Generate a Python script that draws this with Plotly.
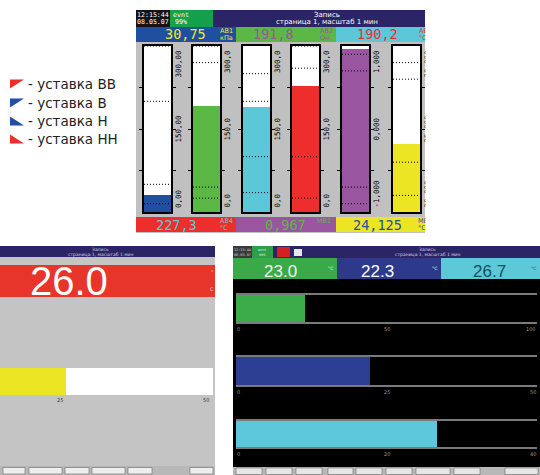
import plotly.graph_objects as go

W, H = 540, 475

# ---------------- data ----------------
# top panel: six vertical bar channels
top_channels = ["AB1", "AB2", "AB3", "AB4", "MB1", "MB2"]
top_units = ["кПа", "Ом", "°C", "°C", "", "°C"]
top_values = [30.75, 191.8, 190.2, 227.3, 0.967, 24.125]
top_value_text = ["30,75", "191,8", "190,2", "227,3", "0,967", "24,125"]
top_min = [0, 0, 0, 0, -1, 20]
top_max = [300, 300, 300, 300, 1, 30]
top_tick_text = [
    ["0,00", "150,00", "300,00"],
    ["0,0", "150,0", "300,0"],
    ["0,0", "150,0", "300,0"],
    ["0,0", "150,0", "300,0"],
    ["-1,000", "0,000", "1,000"],
    ["20,000", "25,000", "30,000"],
]
sp_high_high = [300, 300, 250, 300, 0.9, 29]   # уставка ВВ
sp_high = [200, 270, 200, 260, 0.7, 28]        # уставка В
sp_low = [50, 45, 100, 100, -0.7, 23]          # уставка Н
sp_low_low = [15, 25, 35, 25, -0.9, 21]        # уставка НН

legend_labels = ["- уставка ВВ", "- уставка В", "- уставка Н", "- уставка НН"]

header_time = ["12:15:44", "08.05.07"]
header_evnt = ["evnt", "99%"]
header_title = ["Запись", "страница 1, масштаб 1 мин"]

# bottom-left screen
bl_value = 26.0
bl_value_text = "26.0"
bl_visible_range = [15, 50.5]
bl_tick_vals = [25, 50]
bl_tick_text = ["25", "50"]
bl_mark = 24

# bottom-right screen
br_values = [23.0, 22.3, 26.7]
br_value_text = ["23.0", "22.3", "26.7"]
br_max = [100, 50, 40]
br_tick_text = [["0", "50", "100"], ["0", "25", "50"], ["0", "20", "40"]]
br_marks = [23.3, 19.5, 24.2]

# ---------------- styles ----------------
GRAY = "#c0c0c0"
NAVY = "#2b2566"
C_BLUE = "#1f4f9f"
C_GREEN = "#5cb845"
C_CYAN = "#5cc7d8"
C_RED = "#ee2d2d"
C_PURPLE = "#9a55a0"
C_YELLOW = "#ece524"
bar_colors = [C_BLUE, C_GREEN, C_CYAN, C_RED, C_PURPLE, C_YELLOW]
cell_text_colors = ["#f0e830", "#9a55a0", "#ee2d2d", "#5cc7d8", "#5cb845", "#1f4f9f"]
MONO = "DejaVu Sans Mono"
SANS = "DejaVu Sans"
PANEL_R = 425


def px(x):
    return x / W


def py(y):
    return 1 - y / H


shapes = []
annotations = []


def rect(x0, y0, x1, y1, color, line_color=None, lw=0):
    shapes.append(dict(type="rect", xref="paper", yref="paper",
                       x0=px(x0), x1=px(x1), y0=py(y1), y1=py(y0),
                       fillcolor=color,
                       line=dict(width=lw, color=line_color or color),
                       layer="below"))


def text(x, y, s, size, color, family=SANS, xanchor="center", yanchor="middle"):
    annotations.append(dict(xref="paper", yref="paper", x=px(x), y=py(y), text=s,
                            showarrow=False, font=dict(size=size, color=color, family=family),
                            xanchor=xanchor, yanchor=yanchor, borderpad=0))


fig = go.Figure()
layout_axes = {}


def axnames(k):
    s = "" if k == 1 else str(k)
    return "x" + s, "y" + s, "xaxis" + s, "yaxis" + s


# ---------------- top panel backgrounds ----------------
rect(136, 10, PANEL_R, 233, GRAY)
rect(136, 10, 170, 27, "#141414")
rect(170, 10, 192, 27, "#1aa04a")
rect(192, 10, 213, 27, "#13a04c")
rect(213, 10, PANEL_R, 27, NAVY)
cells_x = [(136, 236), (236, 336), (336, PANEL_R)]
for i, (a, b) in enumerate(cells_x):
    rect(a, 27, b, 42, bar_colors[i])
    rect(a, 217, b, 232, bar_colors[i + 3])

text(153, 14.5, header_time[0], 6.6, "white", MONO)
text(153, 21.5, header_time[1], 6.6, "white", MONO)
text(181, 14.5, header_evnt[0], 6.6, "white", MONO)
text(181, 21.5, header_evnt[1], 6.6, "white", MONO)
text(327, 14.5, header_title[0], 7, "white", SANS)
text(327, 22, header_title[1], 7, "white", SANS)

val_cx = [185, 273, 377, 176, 285, 377]
val_cy = [34.5, 34.5, 34.5, 224.5, 224.5, 224.5]
lab_x = [219, 319, 418, 219, 316, 417]
for i in range(6):
    text(val_cx[i], val_cy[i], top_value_text[i], 13.5, cell_text_colors[i], MONO)
    unit = top_units[i]
    text(lab_x[i], val_cy[i] - 3.3, top_channels[i], 6.5, cell_text_colors[i], SANS, xanchor="left")
    if unit:
        text(lab_x[i], val_cy[i] + 3.5, unit, 6.5, cell_text_colors[i], SANS, xanchor="left")

# ---------------- top panel vertical bars ----------------
bar_left = [144, 193, 243, 292, 342, 393]
BAR_W = 27
BAR_TOP, BAR_BOT = 46, 212
for i in range(6):
    k = i + 1
    xa, ya, xk, yk = axnames(k)
    mn, mx = top_min[i], top_max[i]
    span = mx - mn
    shapes.append(dict(type="rect", xref=xa + " domain", yref=ya + " domain",
                       x0=0, x1=1, y0=0, y1=1, fillcolor="white",
                       line=dict(width=0), layer="below"))
    fig.add_trace(go.Bar(x=[0.5], y=[top_values[i] - mn], base=[mn], width=[1],
                         marker=dict(color=bar_colors[i], line=dict(width=0)),
                         xaxis=xa, yaxis=ya, hoverinfo="skip"))
    off = 3.0 / (BAR_BOT - BAR_TOP) * span
    for sp, col, sym, sgn in [(sp_high_high[i], C_RED, "triangle-nw", -1),
                              (sp_high[i], C_BLUE, "triangle-nw", -1),
                              (sp_low[i], C_BLUE, "triangle-sw", 1),
                              (sp_low_low[i], C_RED, "triangle-sw", 1)]:
        fig.add_trace(go.Scatter(x=[0, 1], y=[sp, sp], mode="lines",
                                 line=dict(color="black", width=1, dash="1px,2px"),
                                 xaxis=xa, yaxis=ya, hoverinfo="skip"))
        fig.add_trace(go.Scatter(x=[-0.15], y=[sp + sgn * off], mode="markers",
                                 marker=dict(symbol=sym, size=7, color=col, line=dict(width=0)),
                                 cliponaxis=False, xaxis=xa, yaxis=ya, hoverinfo="skip"))
    layout_axes[xk] = dict(domain=[px(bar_left[i]), px(bar_left[i] + BAR_W)], range=[0, 1],
                           anchor=ya, showline=True, mirror=True, linecolor="black", linewidth=1.5,
                           showticklabels=False, ticks="", showgrid=False, zeroline=False,
                           fixedrange=True)
    layout_axes[yk] = dict(domain=[py(BAR_BOT), py(BAR_TOP)], range=[mn, mx], anchor=xa,
                           showline=True, mirror="ticks", linecolor="black", linewidth=1.5,
                           ticks="outside", ticklen=3, tickwidth=1, tickcolor="black",
                           tickvals=[mn + span * q for q in (0.25, 0.5, 0.75)],
                           showticklabels=False, showgrid=False, zeroline=False, fixedrange=True)
    for tv, tt, yanc, ysh in [(mn, top_tick_text[i][0], "bottom", 3),
                              (mn + span / 2, top_tick_text[i][1], "middle", 0),
                              (mx, top_tick_text[i][2], "top", -3)]:
        annotations.append(dict(xref=xa + " domain", yref=ya, x=1, y=tv, text=tt,
                                showarrow=False, textangle=-90, xanchor="left", yanchor=yanc,
                                xshift=2, yshift=ysh, borderpad=0,
                                font=dict(size=7.5, color="black", family=MONO)))

# the photographed screen is cropped at its right edge: mask what lies beyond it
annotations.append(dict(xref="paper", yref="paper", x=px(PANEL_R), y=py(2), text=" ",
                        showarrow=False, xanchor="left", yanchor="top", width=40, height=238,
                        bgcolor="white", borderpad=0, font=dict(size=2)))

# ---------------- legend ----------------
leg_y = [84, 103, 121, 139]
leg_cols = [C_RED, C_BLUE, C_BLUE, C_RED]
for j in range(4):
    yc = leg_y[j]
    x0, x1, y0, y1 = px(10), px(24), py(yc - 4.5), py(yc + 4.5)
    if j < 2:
        path = f"M {x0},{y0} L {x1},{y0} L {x0},{y1} Z"
    else:
        path = f"M {x0},{y1} L {x1},{y1} L {x0},{y0} Z"
    shapes.append(dict(type="path", xref="paper", yref="paper", path=path,
                       fillcolor=leg_cols[j], line=dict(width=0), layer="above"))
    text(27, yc, legend_labels[j], 13.5, "#222222", SANS, xanchor="left")

# ---------------- bottom-left screen ----------------
rect(0, 246, 215, 257, NAVY)
rect(0, 257, 215, 467, "#c4c4c4")
rect(0, 265, 215, 297, "#e8352b")
rect(0, 466, 215, 475, "#b8b8b8")
text(100, 249, header_title[0], 4.5, "#d0d0e0")
text(100, 254, header_title[1], 4.5, "#d0d0e0")
text(69, 281, bl_value_text, 40, "white", "Liberation Sans")
text(212, 272, "°", 5, "#f4d0d0")
text(212, 289, "C", 5, "#f4d0d0")
for bx0, bx1 in [(3, 25), (29, 62), (65, 89), (92, 125), (128, 152), (190, 213)]:
    rect(bx0, 467.5, bx1, 474, "#eeeeee", "#555555", 0.5)

k = 10
xa, ya, xk, yk = axnames(k)
shapes.append(dict(type="rect", xref=xa + " domain", yref=ya + " domain", x0=0, x1=1, y0=0, y1=1,
                   fillcolor="white", line=dict(width=0), layer="below"))
fig.add_trace(go.Bar(x=[bl_value], y=[0], base=[0], orientation="h", width=[1],
                     marker=dict(color=C_YELLOW, line=dict(width=0)),
                     xaxis=xa, yaxis=ya, hoverinfo="skip"))
fig.add_trace(go.Scatter(x=[bl_mark], y=[0.68], mode="markers",
                         marker=dict(symbol="circle", size=4, color="#d04040"),
                         cliponaxis=False, xaxis=xa, yaxis=ya, hoverinfo="skip"))
layout_axes[xk] = dict(domain=[0, px(213)], range=bl_visible_range, anchor=ya, showline=False,
                       showticklabels=False, ticks="", showgrid=False, zeroline=False, fixedrange=True)
layout_axes[yk] = dict(domain=[py(395), py(368)], range=[-0.5, 0.5], anchor=xa, visible=False,
                       fixedrange=True)
for tv, tt in zip(bl_tick_vals, bl_tick_text):
    annotations.append(dict(xref=xa, yref=ya + " domain", x=tv, y=0, text=tt, showarrow=False,
                            yanchor="top", yshift=-1, borderpad=0,
                            xanchor="center" if tv < bl_visible_range[1] - 2 else "right",
                            font=dict(size=5, color="#333333", family=SANS)))

# ---------------- bottom-right screen ----------------
rect(233, 246, 540, 258, NAVY)
rect(233, 246, 252, 258, "#3a3a3a")
rect(252, 246, 273, 258, "#2e9e48")
rect(277, 247, 290, 257, "#d42020")
rect(294, 249, 302, 256, "#e8e8e8")
text(427, 249.5, header_title[0], 4.5, "#d0d0e0")
text(427, 254.5, header_title[1], 4.5, "#d0d0e0")
text(242, 250, header_time[0], 3.5, "#cccccc", MONO)
text(242, 255, header_time[1], 3.5, "#cccccc", MONO)
text(262, 250, header_evnt[0], 3.5, "#e0f0e0", MONO)
text(262, 255, header_evnt[1], 3.5, "#e0f0e0", MONO)
br_cells = [(233, 337, "#3aaa48", "#eef8e8"), (337, 441, "#2d3a8c", "white"), (441, 540, "#5cc8d8", "#17505c")]
br_val_cx = [280, 377, 489]
for j, (a, b, c, tc) in enumerate(br_cells):
    rect(a, 258, b, 279, c)
    text(br_val_cx[j], 271.5, br_value_text[j], 17, tc, "Liberation Sans")
    text(b - 7, 268, "°C", 4.5, tc)
rect(233, 279, 540, 467, "black")
rect(233, 467, 540, 475, "#b8b8b8")
for bx0, bx1 in [(236, 262), (266, 292), (296, 322), (328, 353), (356, 382), (386, 412),
                 (416, 450), (454, 480), (505, 538)]:
    rect(bx0, 468, bx1, 474.5, "#e6e6e6", "#555555", 0.5)

br_y = [(295, 322), (357, 385), (421, 447)]
br_colors = ["#3cac4a", "#2d3f92", "#5cc8da"]
for j in range(3):
    k = 7 + j
    xa, ya, xk, yk = axnames(k)
    fig.add_trace(go.Bar(x=[br_values[j]], y=[0], base=[0], orientation="h", width=[1],
                         marker=dict(color=br_colors[j], line=dict(width=0)),
                         xaxis=xa, yaxis=ya, hoverinfo="skip"))
    fig.add_trace(go.Scatter(x=[br_marks[j]], y=[0.7], mode="markers",
                             marker=dict(symbol="square", size=4, color="#e02020"),
                             cliponaxis=False, xaxis=xa, yaxis=ya, hoverinfo="skip"))
    layout_axes[xk] = dict(domain=[px(236), px(537)], range=[0, br_max[j]], anchor=ya,
                           showline=True, mirror=True, linecolor="#7a7a7a", linewidth=2,
                           layer="below traces", showticklabels=False, ticks="",
                           showgrid=False, zeroline=False, fixedrange=True)
    layout_axes[yk] = dict(domain=[py(br_y[j][1]), py(br_y[j][0])], range=[-0.5, 0.5], anchor=xa,
                           showline=False, showticklabels=False, ticks="", showgrid=False,
                           zeroline=False, fixedrange=True)
    for q, tt, xanc in zip((0, 0.5, 1), br_tick_text[j], ("left", "center", "right")):
        annotations.append(dict(xref=xa, yref=ya + " domain", x=br_max[j] * q, y=0, text=tt,
                                showarrow=False, yanchor="top", xanchor=xanc, yshift=-3, borderpad=0,
                                font=dict(size=5, color="#9a9a9a", family=SANS)))

fig.update_layout(
    width=W, height=H, margin=dict(l=0, r=0, t=0, b=0),
    paper_bgcolor="white", plot_bgcolor="rgba(0,0,0,0)",
    showlegend=False, barmode="overlay", bargap=0,
    shapes=shapes, annotations=annotations,
    **layout_axes,
)

fig.write_html("out.html", config={"displayModeBar": False},
               post_script="document.body.style.margin='0';")
